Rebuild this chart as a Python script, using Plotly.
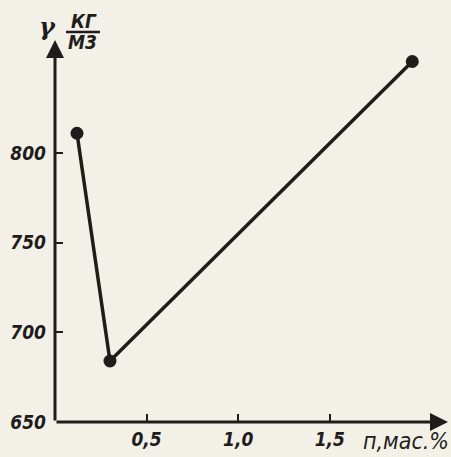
import plotly.graph_objects as go

# Data
n_mass_pct = [0.12, 0.30, 1.95]
gamma_kg_m3 = [811, 684, 851]

x_tick_vals = [0.5, 1.0, 1.5]
x_tick_text = ["0,5", "1,0", "1,5"]
y_tick_vals = [650, 700, 750, 800]
y_tick_text = ["650", "700", "750", "800"]

X_MAX = 2.145
Y_MIN, Y_MAX = 650, 863

ink = "#1f1d1c"
paper = "#f3f1e7"
narrow = "DejaVu Sans Condensed, DejaVu Sans"
font_main = dict(family=narrow, size=19, color=ink, style="italic", weight="bold")

fig = go.Figure()
fig.add_trace(go.Scatter(
    x=n_mass_pct, y=gamma_kg_m3, mode="lines+markers",
    line=dict(color=ink, width=3.5),
    marker=dict(color=ink, size=13),
    cliponaxis=False, showlegend=False,
))

fig.update_layout(
    width=451, height=457,
    margin=dict(l=55, r=3, t=40, b=35),
    paper_bgcolor=paper, plot_bgcolor=paper,
    xaxis=dict(range=[0, X_MAX], showgrid=False, zeroline=False, showline=False,
               tickvals=x_tick_vals, ticktext=x_tick_text,
               ticks="inside", ticklen=8, tickwidth=2, tickcolor=ink,
               tickfont=font_main, fixedrange=True, ticklabelstandoff=4),
    yaxis=dict(range=[Y_MIN, Y_MAX], showgrid=False, zeroline=False, showline=False,
               tickvals=y_tick_vals, ticktext=y_tick_text,
               ticks="inside", ticklen=8, tickwidth=2, tickcolor=ink,
               tickfont=font_main, fixedrange=True, ticklabelstandoff=8),
)

# Axis lines with arrowheads
fig.add_annotation(x=X_MAX, y=Y_MIN, ax=0, ay=Y_MIN, xref="x", yref="y",
                   axref="x", ayref="y", text="", showarrow=True,
                   arrowhead=2, arrowsize=1.2, arrowwidth=3, arrowcolor=ink)
fig.add_annotation(x=0, y=Y_MAX, ax=0, ay=Y_MIN, xref="x", yref="y",
                   axref="x", ayref="y", text="", showarrow=True,
                   arrowhead=2, arrowsize=1.2, arrowwidth=3, arrowcolor=ink)

# Axis labels (positions in pixels, converted below)
fig.add_annotation(x=451, y=457 - 441, xref="paper", yref="paper",
                   text="п,мас.%", showarrow=False, xanchor="right", yanchor="middle",
                   font=dict(family=narrow, size=23, color=ink, style="italic"))
fig.add_annotation(x=47, y=457 - 27, xref="paper", yref="paper",
                   text="γ", showarrow=False, xanchor="center", yanchor="middle",
                   font=dict(family="DejaVu Serif", size=24, color=ink,
                             style="italic", weight="bold"))
fig.add_annotation(x=84, y=457 - 21, xref="paper", yref="paper",
                   text="КГ", showarrow=False, xanchor="center", yanchor="middle",
                   font=dict(family=narrow, size=19, color=ink,
                             style="italic", weight="bold"))
fig.add_annotation(x=82, y=457 - 42, xref="paper", yref="paper",
                   text="М3", showarrow=False, xanchor="center", yanchor="middle",
                   font=dict(family=narrow, size=19, color=ink,
                             style="italic", weight="bold"))
fig.add_shape(type="line", x0=66, x1=100, y0=457 - 32, y1=457 - 32,
              xref="paper", yref="paper", line=dict(color=ink, width=2.5))

W_plot = 451 - 55 - 3
H_plot = 457 - 40 - 35
for a in fig.layout.annotations:
    if a.xref == "paper":
        a.x = (a.x - 55) / W_plot
        a.y = (a.y - 35) / H_plot
for s in fig.layout.shapes:
    s.x0 = (s.x0 - 55) / W_plot
    s.x1 = (s.x1 - 55) / W_plot
    s.y0 = (s.y0 - 35) / H_plot
    s.y1 = (s.y1 - 35) / H_plot

fig.write_html("out.html", config={"displayModeBar": False},
               post_script="document.body.style.margin='0';document.body.style.background='%s';" % paper)
